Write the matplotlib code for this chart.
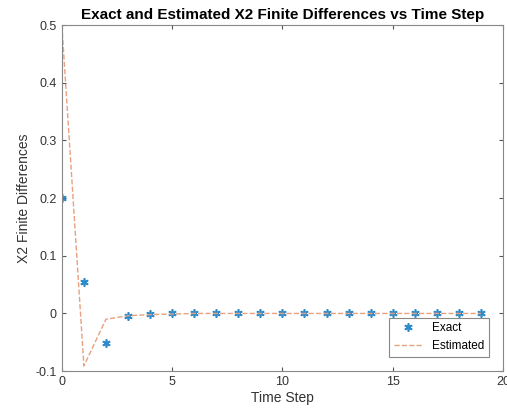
import numpy as np
import matplotlib.pyplot as plt

time_step = list(range(20))
exact = [0.2, 0.055, -0.051, -0.005, -0.001, 0.0, 0.0, 0.0, 0.0, 0.0,
         0.0, 0.0, 0.0, 0.0, 0.0, 0.0, 0.0, 0.0, 0.0, 0.0]
estimated = [0.5, -0.091, -0.01, -0.004, -0.002, -0.001, 0.0, 0.0, 0.0, 0.0,
             0.0, 0.0, 0.0, 0.0, 0.0, 0.0, 0.0, 0.0, 0.0, 0.0]
xticks = [0, 5, 10, 15, 20]
yticks = [-0.1, 0, 0.1, 0.2, 0.3, 0.4, 0.5]
ytick_labels = ['-0.1', '0', '0.1', '0.2', '0.3', '0.4', '0.5']

plt.rcParams['font.family'] = ['Liberation Sans', 'DejaVu Sans']
fig = plt.figure(figsize=(5.07, 4.17), dpi=100)
ax = fig.add_axes([0.122, 0.110, 0.870, 0.830])

# MATLAB-style asterisk marker
ax.plot(time_step, exact, linestyle='none', marker=(6, 2, 0), markersize=6,
        markeredgewidth=1.2, color='#2E8BC9', label='Exact')
ax.plot(time_step, estimated, linestyle='--', linewidth=1.0,
        color='#E8A080', label='Estimated')

ax.set_xlim(0, 20)
ax.set_ylim(-0.1, 0.5)
ax.set_xticks(xticks)
ax.set_yticks(yticks)
ax.set_yticklabels(ytick_labels)
ax.tick_params(direction='in', length=3, colors='#555555', labelsize=9,
               top=True, right=True, labelcolor='#333333')
for s in ax.spines.values():
    s.set_color('#888888')
    s.set_linewidth(0.8)

ax.set_xlabel('Time Step', fontsize=10, color='#333333', labelpad=2)
ax.set_ylabel('X2 Finite Differences', fontsize=10, color='#333333', labelpad=3)
ax.set_title('Exact and Estimated X2 Finite Differences vs Time Step',
             fontsize=11, fontweight='bold', pad=4)

leg = ax.legend(loc='lower right', fontsize=8.5, fancybox=False,
                framealpha=1, edgecolor='#888888', borderaxespad=1.2,
                handlelength=2.4)
leg.get_frame().set_linewidth(0.8)

fig.savefig('out.png', dpi=100)
